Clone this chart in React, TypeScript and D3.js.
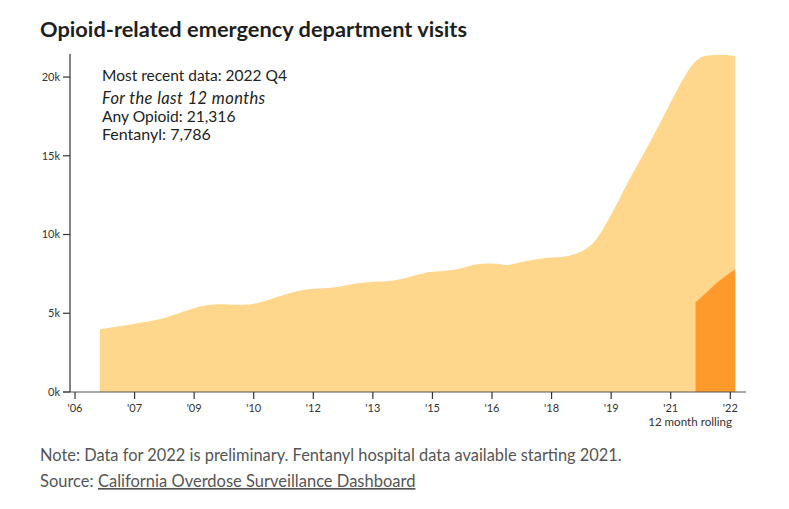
import React from "react";
import * as d3 from "d3";

// Rolling 12-month totals, quarterly, 2006 Q4 .. 2022 Q4
const startYear = 2006;
const startQuarter = 4;
const anyOpioid: number[] = [
  3980, 4080, 4170, 4270, 4390, 4500, 4620, 4800, 5020, 5220,
  5420, 5530, 5570, 5560, 5540, 5560, 5670, 5860, 6070, 6250,
  6420, 6520, 6570, 6600, 6680, 6800, 6900, 6970, 7010, 7030,
  7120, 7270, 7440, 7600, 7650, 7710, 7800, 7960, 8110, 8160,
  8150, 8060, 8180, 8320, 8430, 8530, 8550, 8620, 8800, 9100,
  9700, 10700, 11850, 13100, 14250, 15400, 16550, 17780, 19000, 20150,
  21000, 21350, 21400, 21400, 21316,
];
// Fentanyl: 2021 Q4 .. 2022 Q4
const fentanylStartIndex = 60;
const fentanyl: number[] = [5700, 6250, 6850, 7350, 7786];

const xTickValues = [2006, 2007.5, 2009, 2010.5, 2012, 2013.5, 2015, 2016.5, 2018, 2019.5, 2021, 2022.5];
const xTickLabels = ["'06", "'07", "'09", "'10", "'12", "'13", "'15", "'16", "'18", "'19", "'21", "'22"];
const yTickValues = [0, 5000, 10000, 15000, 20000];
const yTickLabels = ["0k", "5k", "10k", "15k", "20k"];

const title = "Opioid-related emergency department visits";
const infoLines = ["Most recent data: 2022 Q4", "For the last 12 months", "Any Opioid: 21,316", "Fentanyl: 7,786"];
const note = "Note: Data for 2022 is preliminary. Fentanyl hospital data available starting 2021.";
const sourceLabel = "Source: ";
const sourceLink = "California Overdose Surveillance Dashboard";

const FONT = "Lato, 'Noto Sans', sans-serif";

function periodX(i: number) {
  const q = startQuarter + i;
  const year = startYear + Math.floor((q - 1) / 4);
  const quarter = ((q - 1) % 4) + 1;
  return year + (quarter - 1) / 4 - 0.125;
}

export default function App() {
  const x = d3.scaleLinear().domain([2006, 2022.5]).range([75, 730.3]);
  const y = d3.scaleLinear().domain([0, 21500]).range([392, 53.4]);

  const anyData = anyOpioid.map((v, i) => ({ t: periodX(i), v }));
  const fentData = fentanyl.map((v, i) => ({ t: periodX(fentanylStartIndex + i), v }));

  const area = d3
    .area<{ t: number; v: number }>()
    .x((d) => x(d.t))
    .y0(y(0))
    .y1((d) => y(d.v))
    .curve(d3.curveMonotoneX);

  return (
    <svg width={789} height={509} style={{ position: "absolute", left: 0, top: 0, fontFamily: FONT }}>
      <rect width={789} height={509} fill="#fff" />
      <text x={40} y={37} fontSize={21.8} fontWeight={700} fill="#1f1f1f">
        {title}
      </text>

      <path d={area(anyData) || ""} fill="#fed78d" />
      <path d={area(fentData) || ""} fill="#fe9a2c" />

      {/* y axis */}
      <line x1={70} x2={70} y1={54} y2={392} stroke="#333" strokeWidth={1.2} />
      {yTickValues.map((v, i) => (
        <g key={v}>
          <line x1={63} x2={70} y1={y(v)} y2={y(v)} stroke="#333" strokeWidth={1.2} />
          <text x={60} y={y(v)} dy="0.35em" textAnchor="end" fontSize={11} fill="#333">
            {yTickLabels[i]}
          </text>
        </g>
      ))}

      {/* x axis */}
      <line x1={63} x2={746} y1={392} y2={392} stroke="#555" strokeWidth={1.2} />
      {xTickValues.map((v, i) => (
        <g key={v}>
          <line x1={x(v)} x2={x(v)} y1={392} y2={399} stroke="#333" strokeWidth={1.2} />
          <text x={x(v)} y={412} textAnchor="middle" fontSize={11} fill="#333">
            {xTickLabels[i]}
          </text>
        </g>
      ))}
      <text x={732} y={426} textAnchor="end" fontSize={11.6} fill="#333">
        12 month rolling
      </text>

      {/* info block */}
      <text x={102} y={81} fontSize={15.5} fill="#222">{infoLines[0]}</text>
      <text x={102} y={104} fontSize={16.5} fill="#222" fontStyle="italic" letterSpacing={0.4}>{infoLines[1]}</text>
      <text x={102} y={122} fontSize={15.6} fill="#222">{infoLines[2]}</text>
      <text x={102} y={140} fontSize={16} fill="#222">{infoLines[3]}</text>

      {/* footer */}
      <text x={40} y={461} fontSize={16.4} fill="#555">{note}</text>
      <text x={40} y={487} fontSize={16.5} fill="#555">
        {sourceLabel}
        <tspan textDecoration="underline" style={{ textDecoration: "underline" }}>{sourceLink}</tspan>
      </text>
    </svg>
  );
}
